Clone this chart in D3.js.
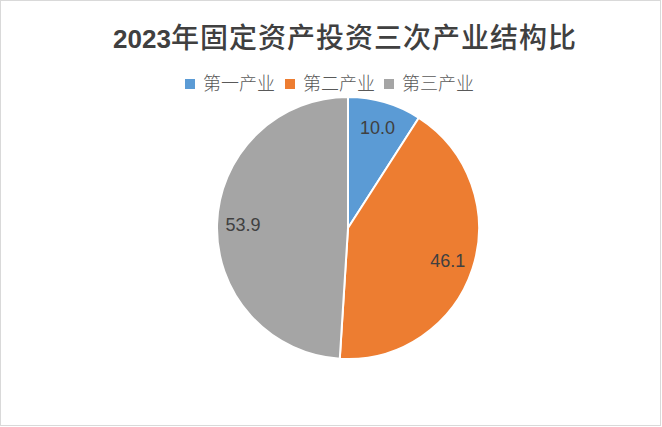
<!DOCTYPE html>
<html><head><meta charset="utf-8">
<script src="https://cdn.jsdelivr.net/npm/d3@7"></script>
<style>html,body{margin:0;padding:0;background:#fff;}</style>
</head><body>
<svg id="chart" width="662" height="427"></svg>
<script>
const categories = ["第一产业", "第二产业", "第三产业"];
const values = [10.0, 46.1, 53.9];
const colors = ["#5B9BD5", "#ED7D31", "#A5A5A5"];
const titleYear = "2023";
const titleText = "年固定资产投资三次产业结构比";

const svg = d3.select("#chart");
svg.append("rect").attr("x", 0.5).attr("y", 0.5).attr("width", 660).attr("height", 425)
  .attr("fill", "#fff").attr("stroke", "#d9d9d9").attr("stroke-width", 1);

// Title
const title = svg.append("text").attr("x", 345).attr("y", 48).attr("text-anchor", "middle")
  .attr("fill", "#404040");
title.append("tspan").text(titleYear).attr("font-family", "Liberation Sans, Arial, sans-serif")
  .attr("font-weight", "bold").attr("font-size", 26);
title.append("tspan").text(titleText).attr("font-family", "Noto Sans CJK SC, sans-serif")
  .attr("font-weight", 500).attr("font-size", 28).attr("letter-spacing", 1);

// Legend
const legendX = [185, 285, 384];
const leg = svg.append("g");
categories.forEach((c, i) => {
  leg.append("rect").attr("x", legendX[i]).attr("y", 79).attr("width", 10).attr("height", 10)
    .attr("fill", colors[i]);
  leg.append("text").attr("x", legendX[i] + 18).attr("y", 90).text(c)
    .attr("font-family", "Noto Sans CJK SC, sans-serif").attr("font-weight", 300)
    .attr("font-size", 18).attr("fill", "#595959");
});

// Pie
const cx = 348, cy = 228, r = 131;
const pie = d3.pie().sort(null).value(d => d)(values);
const arc = d3.arc().innerRadius(0).outerRadius(r);
const labelArc = d3.arc().innerRadius(210).outerRadius(0);
const g = svg.append("g").attr("transform", `translate(${cx},${cy})`);
g.selectAll("path").data(pie).join("path").attr("d", arc)
  .attr("fill", (d, i) => colors[i]).attr("stroke", "#fff").attr("stroke-width", 2);
g.selectAll("text.lbl").data(pie).join("text").attr("class", "lbl")
  .attr("transform", d => `translate(${labelArc.centroid(d)})`)
  .attr("text-anchor", "middle").attr("dy", "0.35em")
  .attr("font-family", "Liberation Sans, Arial, sans-serif").attr("font-size", 18)
  .attr("fill", "#404040").text(d => d.data.toFixed(1));
</script>
</body></html>
